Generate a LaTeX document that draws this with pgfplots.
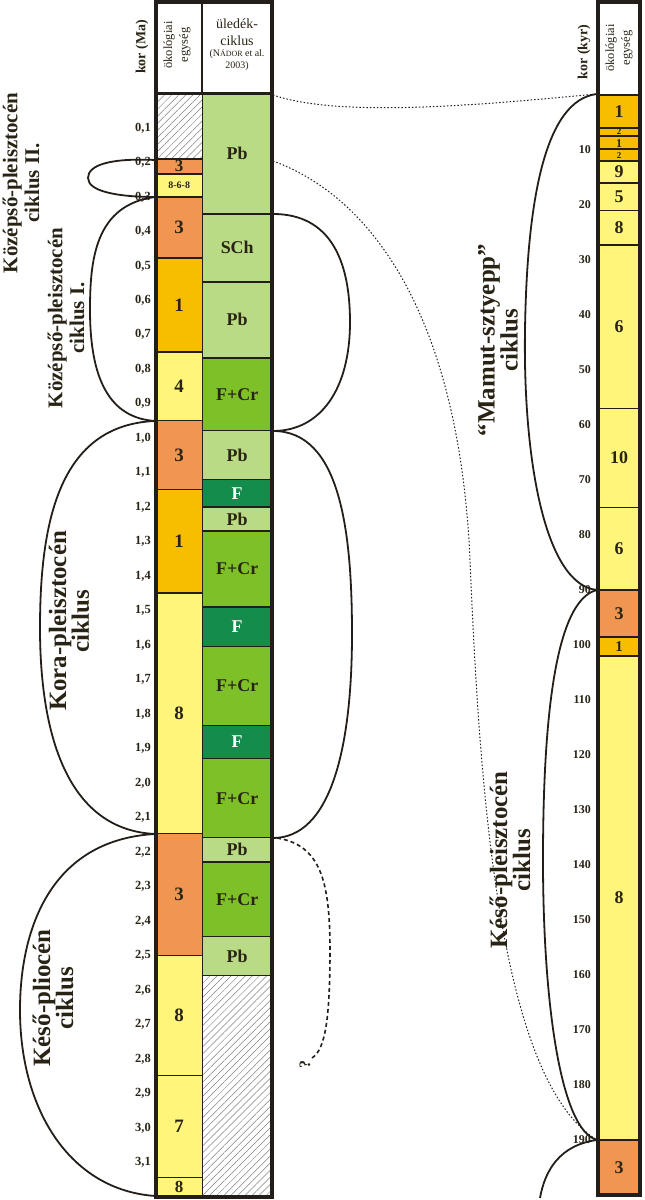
\documentclass[border=0pt]{standalone}
\usepackage{pgfplots}
\pgfplotsset{compat=1.18}
\usetikzlibrary{patterns.meta}
\usepackage{fontspec}
\setmainfont{Liberation Serif}
\definecolor{cthree}{RGB}{240,150,80}
\definecolor{cone}{RGB}{247,190,0}
\definecolor{cyel}{RGB}{255,245,122}
\definecolor{cpb}{RGB}{186,219,133}
\definecolor{cfcr}{RGB}{125,192,40}
\definecolor{cf}{RGB}{20,140,75}
\definecolor{bord}{RGB}{35,30,25}
\definecolor{textc}{RGB}{40,35,20}
\newcommand{\blk}[5]{\addplot[draw=bord, line width=1.6bp, fill=#5] coordinates {(#1,#3) (#2,#3) (#2,#4) (#1,#4) (#1,#3)};}
\newcommand{\hatch}[4]{\addplot[draw=bord, line width=1.6bp, pattern={Lines[angle=45,distance=5bp,line width=0.5bp]}, pattern color=gray] coordinates {(#1,#3) (#2,#3) (#2,#4) (#1,#4) (#1,#3)};}
\pgfplotsset{
  lbl/.style={draw=none, mark=none, nodes near coords, point meta=explicit symbolic,
    every node near coord/.append style={anchor=center, inner sep=0pt, text=textc, font=\bfseries\fontsize{#1}{#1}\selectfont}},
  col/.style={scale only axis, axis on top, clip=false,
    axis line style={line width=3.5bp, draw=bord},
    xtick=\empty, major tick length=0, y dir=reverse, xmin=0, xmax=1},
}
\begin{document}
\begin{tikzpicture}
\useasboundingbox (0,0) rectangle (645bp,1200bp);
% ---------------- left column (Ma)
\begin{axis}[col, at={(156bp,1198bp)}, anchor=north west, width=116bp, height=1195bp,
  ymin=-0.265, ymax=3.2,
  ytick={0.1,0.2,0.3,0.4,0.5,0.6,0.7,0.8,0.9,1.0,1.1,1.2,1.3,1.4,1.5,1.6,1.7,1.8,1.9,2.0,2.1,2.2,2.3,2.4,2.5,2.6,2.7,2.8,2.9,3.0,3.1},
  yticklabel style={font=\bfseries\fontsize{12.5}{12.5}\selectfont, text=textc, inner sep=0pt, xshift=-5bp,
    /pgf/number format/.cd, use comma, fixed, fixed zerofill, precision=1, assume math mode=true}]
% ecological units
\hatch{0}{0.4}{0}{0.19}
\blk{0}{0.4}{0.19}{0.233}{cthree}
\blk{0}{0.4}{0.233}{0.30}{cyel}
\blk{0}{0.4}{0.30}{0.477}{cthree}
\blk{0}{0.4}{0.477}{0.749}{cone}
\blk{0}{0.4}{0.749}{0.949}{cyel}
\blk{0}{0.4}{0.949}{1.149}{cthree}
\blk{0}{0.4}{1.149}{1.448}{cone}
\blk{0}{0.4}{1.448}{2.146}{cyel}
\blk{0}{0.4}{2.146}{2.50}{cthree}
\blk{0}{0.4}{2.50}{2.848}{cyel}
\blk{0}{0.4}{2.848}{3.143}{cyel}
\blk{0}{0.4}{3.143}{3.2}{cyel}
% sediment cycles
\blk{0.4}{1}{0}{0.349}{cpb}
\blk{0.4}{1}{0.349}{0.546}{cpb}
\blk{0.4}{1}{0.546}{0.767}{cpb}
\blk{0.4}{1}{0.767}{0.978}{cfcr}
\blk{0.4}{1}{0.978}{1.12}{cpb}
\blk{0.4}{1}{1.12}{1.20}{cf}
\blk{0.4}{1}{1.20}{1.268}{cpb}
\blk{0.4}{1}{1.268}{1.49}{cfcr}
\blk{0.4}{1}{1.49}{1.604}{cf}
\blk{0.4}{1}{1.604}{1.833}{cfcr}
\blk{0.4}{1}{1.833}{1.929}{cf}
\blk{0.4}{1}{1.929}{2.158}{cfcr}
\blk{0.4}{1}{2.158}{2.228}{cpb}
\blk{0.4}{1}{2.228}{2.445}{cfcr}
\blk{0.4}{1}{2.445}{2.558}{cpb}
\hatch{0.4}{1}{2.558}{3.2}
\draw[bord, line width=2.5bp] (axis cs:0,0) -- (axis cs:1,0);
\draw[bord, line width=2bp] (axis cs:0.4,-0.265) -- (axis cs:0.4,0);
% labels
\addplot[lbl=19] table[meta=t] {
x y t
0.2 0.3885 3
0.2 0.613 1
0.2 0.849 4
0.2 1.049 3
0.2 1.2985 1
0.2 1.797 8
0.2 2.323 3
0.2 2.674 8
0.2 2.9955 7
};
\addplot[lbl=17] table[meta=t] {
x y t
0.2 0.2115 3
0.2 3.1715 8
};
\addplot[lbl=10] table[meta=t] {
x y t
0.2 0.2665 8-6-8
};
\addplot[lbl=18] table[meta=t] {
x y t
0.7 0.1745 Pb
0.7 0.4475 SCh
0.7 0.6565 Pb
0.7 0.8725 F+Cr
0.7 1.049 Pb
0.7 1.234 Pb
0.7 1.379 F+Cr
0.7 1.7185 F+Cr
0.7 2.0435 F+Cr
0.7 2.193 Pb
0.7 2.3365 F+Cr
0.7 2.5015 Pb
};
\addplot[lbl=18, every node near coord/.append style={text=white}] table[meta=t] {
x y t
0.7 1.16 F
0.7 1.547 F
0.7 1.881 F
};
\end{axis}
% ---------------- right column (kyr)
\begin{axis}[col, at={(598bp,1198bp)}, anchor=north west, width=42bp, height=1193bp,
  ymin=-16.909, ymax=200,
  ytick={10,20,30,40,50,60,70,80,90,100,110,120,130,140,150,160,170,180,190},
  yticklabel style={font=\bfseries\fontsize{12}{12}\selectfont, text=textc, inner sep=0pt, xshift=-7bp,
    /pgf/number format/assume math mode=true}]
\blk{0}{1}{0}{6}{cone}
\blk{0}{1}{6}{7.5}{cone}
\blk{0}{1}{7.5}{9.8}{cone}
\blk{0}{1}{9.8}{12}{cone}
\blk{0}{1}{12}{16}{cyel}
\blk{0}{1}{16}{21}{cyel}
\blk{0}{1}{21}{27.3}{cyel}
\blk{0}{1}{27.3}{57}{cyel}
\blk{0}{1}{57}{75}{cyel}
\blk{0}{1}{75}{90}{cyel}
\blk{0}{1}{90}{98.5}{cthree}
\blk{0}{1}{98.5}{102}{cone}
\blk{0}{1}{102}{190}{cyel}
\blk{0}{1}{190}{200}{cthree}
\draw[bord, line width=2.5bp] (axis cs:0,0) -- (axis cs:1,0);
\addplot[lbl=18] table[meta=t] {
x y t
0.5 3 1
0.5 14 9
0.5 18.5 5
0.5 24.15 8
0.5 42.15 6
0.5 66 10
0.5 82.5 6
0.5 94.25 3
0.5 146 8
0.5 195 3
};
\addplot[lbl=15] table[meta=t] {
x y t
0.5 100.25 1
};
\addplot[lbl=12] table[meta=t] {
x y t
0.5 8.75 1
};
\addplot[lbl=9] table[meta=t] {
x y t
0.5 6.6 2
0.5 11 2
};
\end{axis}
% ---------------- annotations (pixel coordinates, y downwards)
\begin{scope}[shift={(0,1200bp)}, x=1bp, y=-1bp]
\tikzset{cyc/.style={bord, line width=1.8bp}, dot/.style={bord, line width=1bp, dash pattern=on 1.5bp off 2bp}}
% header texts
\node[rotate=90, font=\bfseries\fontsize{14}{14}\selectfont, text=textc] at (142,47) {kor (Ma)};
\node[rotate=90, align=center, font=\fontsize{12.5}{16}\selectfont, text=textc] at (177,45) {ökológiai\\egység};
\node[align=center, font=\fontsize{14}{17}\selectfont, text=textc] at (237,32) {üledék-\\ciklus};
\node[align=center, font=\fontsize{10}{12}\selectfont, text=textc] at (237,60) {(N{\fontsize{8}{9}\selectfont ÁDOR} et al.\\2003)};
\node[rotate=90, font=\bfseries\fontsize{14}{14}\selectfont, text=textc] at (584,52) {kor (kyr)};
\node[rotate=90, align=center, font=\fontsize{12.5}{16}\selectfont, text=textc] at (619,48) {ökológiai\\egység};
% cycle names
\node[rotate=90, align=center, font=\bfseries\fontsize{21}{22}\selectfont, text=textc] at (21,183) {Középső-pleisztocén\\ciklus II.};
\node[rotate=90, align=center, font=\bfseries\fontsize{21}{22}\selectfont, text=textc] at (66,318) {Középső-pleisztocén\\ciklus I.};
\node[rotate=90, align=center, font=\bfseries\fontsize{25}{23}\selectfont, text=textc] at (69,621) {Kora-pleisztocén\\ciklus};
\node[rotate=90, align=center, font=\bfseries\fontsize{25}{23}\selectfont, text=textc] at (53,998) {Késő-pliocén\\ciklus};
\node[rotate=90, align=center, font=\bfseries\fontsize{25}{23}\selectfont, text=textc] at (498,340) {“Mamut-sztyepp”\\ciklus};
\node[rotate=90, align=center, font=\bfseries\fontsize{25}{23}\selectfont, text=textc] at (510,860) {Késő-pleisztocén\\ciklus};
% left brackets
\draw[cyc] (155,160) .. controls (110,158) and (88,165) .. (88,178) .. controls (88,192) and (120,197) .. (155,197);
\draw[cyc] (155,197) .. controls (95,205) and (90,260) .. (90,310) .. controls (90,380) and (110,418) .. (155,421);
\draw[cyc] (155,421) .. controls (60,425) and (40,520) .. (40,628) .. controls (40,740) and (70,830) .. (155,834);
\draw[cyc] (155,834) .. controls (50,840) and (20,930) .. (20,1010) .. controls (20,1110) and (70,1190) .. (155,1196);
% right brackets of left column
\draw[cyc] (273,214) .. controls (330,214) and (350,260) .. (350,322) .. controls (350,390) and (320,431) .. (273,431);
\draw[cyc] (273,431) .. controls (340,431) and (352,530) .. (352,634) .. controls (352,750) and (330,838) .. (273,838);
\draw[bord, line width=1.6bp, dash pattern=on 4bp off 3bp] (277,838) .. controls (320,845) and (330,880) .. (330,950) .. controls (330,1020) and (325,1050) .. (312,1058);
\node[rotate=90, font=\bfseries\fontsize{16}{16}\selectfont, text=textc] at (305,1065) {?};
% dotted correlation lines
\draw[dot] (273,95) .. controls (340,118) and (480,105) .. (597,94);
\draw[dot] (273,161) .. controls (380,200) and (460,330) .. (470,560) .. controls (480,800) and (500,1080) .. (597,1140);
% right column brackets
\draw[cyc] (597,94) .. controls (545,100) and (527,200) .. (525,330) .. controls (523,460) and (545,585) .. (597,590);
\draw[cyc] (597,590) .. controls (555,600) and (543,720) .. (543,860) .. controls (543,1000) and (560,1130) .. (597,1140);
\draw[cyc] (597,1140) .. controls (560,1145) and (545,1170) .. (540,1198);
\end{scope}
\end{tikzpicture}
\end{document}
